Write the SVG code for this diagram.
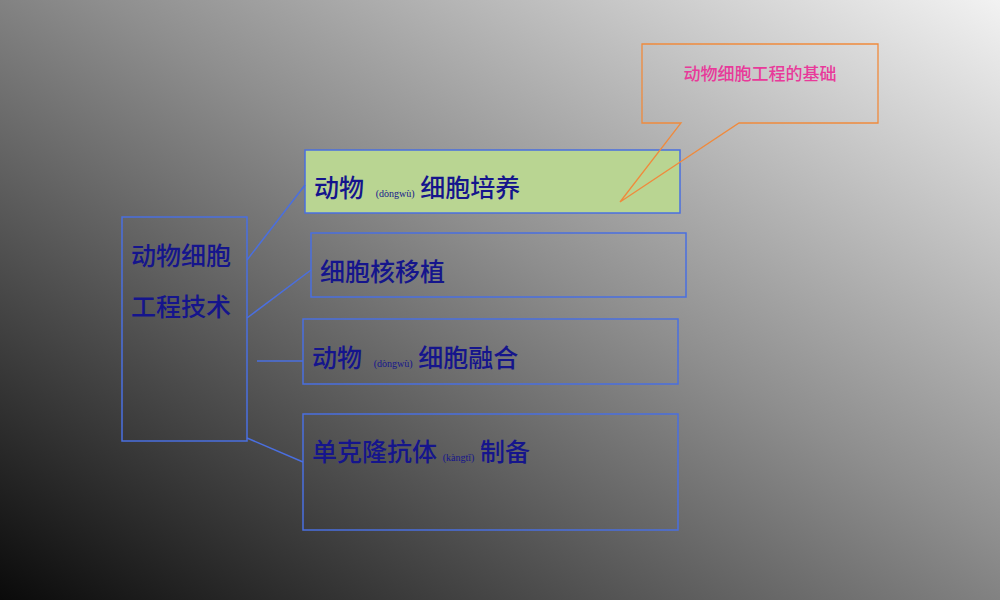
<svg xmlns="http://www.w3.org/2000/svg" width="1000" height="600" viewBox="0 0 1000 600">
<defs>
<linearGradient id="bg" x1="0" y1="1" x2="1" y2="0">
<stop offset="0" stop-color="#0a0a0a"/>
<stop offset="0.55" stop-color="#8e8e8e"/>
<stop offset="1" stop-color="#f2f2f2"/>
</linearGradient>
<style>
.box{fill:none;stroke:#4a6fe0;stroke-width:1.5}
.t{font-family:"Noto Sans CJK SC","Noto Sans",sans-serif;font-weight:500;font-size:25px;fill:#15158c}
.py{font-family:"Liberation Serif",serif;font-size:10px;font-weight:normal;fill:#15158c}
.con{stroke:#4a6fe0;stroke-width:1.5;fill:none}
</style>
</defs>
<rect width="1000" height="600" fill="url(#bg)"/>
<g id="root">
<rect class="box" x="122" y="217" width="125" height="224"/>
<text class="t" x="131" y="265">动物细胞</text>
<text class="t" x="131" y="316">工程技术</text>
</g>
<g id="n1">
<rect class="box" x="305" y="150" width="375" height="63" style="fill:#b9d592"/>
<text class="t" x="314" y="197">动物 <tspan class="py" dx="6">(dòngwù)</tspan> 细胞培养</text>
</g>
<g id="n2">
<rect class="box" x="311" y="233" width="375" height="64"/>
<text class="t" x="320" y="281">细胞核移植</text>
</g>
<g id="n3">
<rect class="box" x="303" y="319" width="375" height="65"/>
<text class="t" x="312" y="367">动物 <tspan class="py" dx="6">(dòngwù)</tspan> 细胞融合</text>
</g>
<g id="n4">
<rect class="box" x="303" y="414" width="375" height="116"/>
<text class="t" x="312" y="461">单克隆抗体 <tspan class="py">(kàngtǐ)</tspan> 制备</text>
</g>
<g id="callout">
<path d="M642,44 H878 V123 H739 L620,202 L681,123 H642 Z" fill="none" stroke="#f08a3c" stroke-width="1.3"/>
<text x="760" y="80" text-anchor="middle" font-family="Noto Sans CJK SC,sans-serif" font-size="17" font-weight="500" fill="#e83a9a">动物细胞工程的基础</text>
</g>
<g id="connectors">
<path class="con" d="M247,260 L305,185"/>
<path class="con" d="M247,318 L311,270"/>
<path class="con" d="M257,361 H303"/>
<path class="con" d="M247,438 L303,462"/>
</g>
</svg>
